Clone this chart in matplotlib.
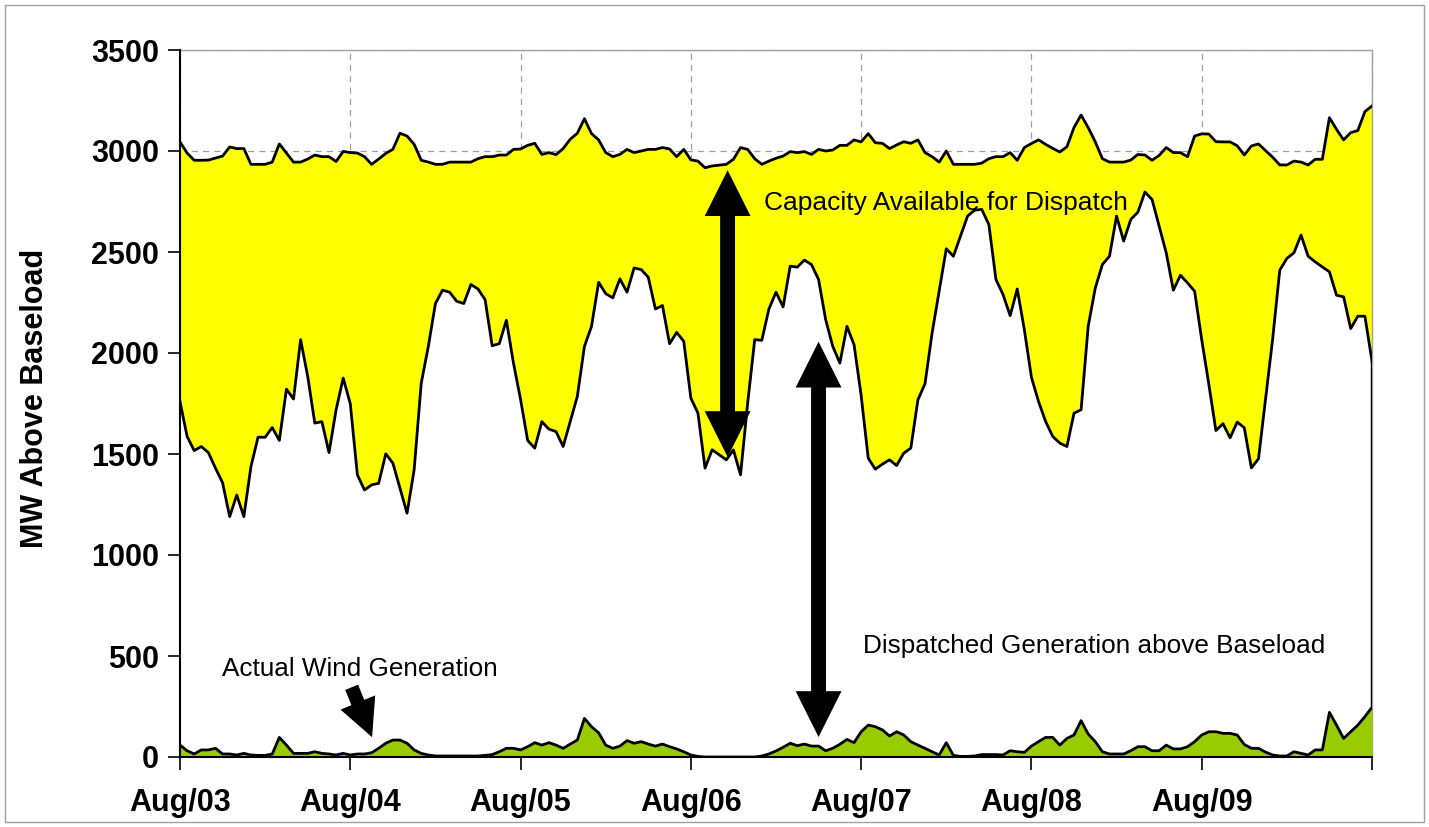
"""
Hourly dispatch capacity vs. dispatched generation and wind, Aug/03 - Aug/09
"""

import matplotlib.pyplot as plt
import numpy as np
from matplotlib.patches import Rectangle

# hourly values (MW above baseload), Aug/03 00h .. Aug/10 00h
top_capacity = [
    3045, 2990, 2954, 2954, 2955, 2965, 2975, 3020, 3012, 3012, 2934, 2934,
    2934, 2945, 3035, 2990, 2945, 2945, 2960, 2980, 2972, 2972, 2948, 2998,
    2992, 2990, 2972, 2934, 2960, 2988, 3008, 3088, 3074, 3033, 2954, 2945,
    2934, 2934, 2945, 2945, 2945, 2945, 2962, 2972, 2972, 2980, 2980, 3008,
    3010, 3028, 3038, 2983, 2992, 2982, 3012, 3058, 3088, 3160, 3086, 3055,
    2992, 2972, 2983, 3008, 2992, 3000, 3008, 3008, 3017, 3010, 2972, 3008,
    2956, 2950, 2917, 2926, 2930, 2934, 2959, 3017, 3008, 2962, 2934, 2950,
    2964, 2975, 2997, 2992, 2997, 2983, 3008, 3000, 3005, 3028, 3028, 3055,
    3045, 3086, 3041, 3038, 3012, 3030, 3046, 3038, 3055, 2992, 2972, 2945,
    3000, 2934, 2934, 2934, 2934, 2940, 2962, 2972, 2972, 2992, 2954, 3017,
    3037, 3055, 3033, 3013, 2995, 3021, 3116, 3178, 3116, 3045, 2962, 2945,
    2945, 2945, 2955, 2983, 2980, 2954, 2978, 3017, 2992, 2992, 2972, 3074,
    3085, 3084, 3046, 3045, 3045, 3026, 2980, 3025, 3035, 3002, 2969, 2931,
    2931, 2950, 2945, 2931, 2959, 2959, 3165, 3107, 3055, 3091, 3101, 3195,
    3223,
]
dispatched = [
    1760, 1587, 1517, 1537, 1507, 1430, 1358, 1190, 1297, 1190, 1438, 1583,
    1583, 1631, 1567, 1821, 1772, 2066, 1884, 1653, 1660, 1507, 1719, 1876,
    1749, 1397, 1322, 1347, 1355, 1501, 1455, 1330, 1207, 1422, 1851, 2033,
    2245, 2311, 2301, 2256, 2245, 2339, 2317, 2264, 2036, 2046, 2162, 1950,
    1770, 1567, 1529, 1660, 1623, 1611, 1537, 1660, 1785, 2033, 2132, 2350,
    2294, 2273, 2367, 2301, 2421, 2413, 2375, 2218, 2235, 2046, 2102, 2058,
    1777, 1702, 1430, 1521, 1496, 1471, 1520, 1397, 1750, 2066, 2063, 2218,
    2301, 2228, 2430, 2425, 2460, 2438, 2364, 2165, 2033, 1950, 2132, 2041,
    1790, 1479, 1425, 1450, 1471, 1443, 1504, 1529, 1768, 1848, 2099, 2306,
    2516, 2479, 2578, 2678, 2707, 2711, 2636, 2364, 2289, 2185, 2317, 2116,
    1880, 1760, 1661, 1587, 1554, 1537, 1702, 1719, 2132, 2322, 2438, 2479,
    2678, 2554, 2661, 2697, 2797, 2760, 2628, 2496, 2311, 2385, 2347, 2306,
    2066, 1846, 1616, 1650, 1580, 1658, 1630, 1431, 1476, 1773, 2070, 2410,
    2468, 2496, 2584, 2479, 2451, 2426, 2402, 2286, 2278, 2121, 2182, 2182,
    1960,
]
wind = [
    59, 31, 15, 35, 35, 43, 15, 15, 10, 18, 10, 8,
    8, 15, 97, 59, 18, 18, 18, 26, 18, 15, 10, 18,
    10, 15, 15, 21, 43, 68, 84, 84, 68, 35, 18, 10,
    5, 5, 5, 5, 5, 5, 5, 8, 12, 26, 43, 43,
    35, 51, 71, 59, 71, 59, 43, 64, 84, 191, 150, 120,
    59, 43, 54, 81, 68, 76, 64, 54, 64, 51, 40, 26,
    10, 3, 0, 0, 0, 0, 0, 0, 0, 0, 5, 15,
    30, 48, 68, 56, 64, 54, 54, 31, 43, 63, 87, 71,
    125, 158, 150, 134, 104, 125, 109, 76, 59, 43, 26, 10,
    71, 8, 3, 3, 5, 12, 12, 12, 10, 31, 26, 23,
    54, 76, 97, 97, 59, 92, 109, 180, 114, 76, 26, 15,
    15, 15, 31, 51, 51, 31, 31, 59, 40, 40, 51, 76,
    109, 125, 125, 117, 117, 109, 62, 43, 43, 24, 10, 5,
    5, 26, 18, 10, 35, 35, 221, 158, 92, 125, 158, 200,
    246,
]
day_labels = ["Aug/03", "Aug/04", "Aug/05", "Aug/06", "Aug/07", "Aug/08", "Aug/09"]

YELLOW = "#FFFF00"
GREEN = "#99CC00"
GRID = "#A0A0A0"

plt.rcParams["font.family"] = ["Liberation Sans", "DejaVu Sans"]

hours = np.arange(len(top_capacity)) / 24.0

fig = plt.figure(figsize=(14.29, 8.27), dpi=100)
ax = fig.add_axes([180 / 1429, 1 - 757 / 827, (1372 - 180) / 1429, (757 - 50) / 827])

# yellow capacity, white dispatched, green wind
ax.fill_between(hours, 0, top_capacity, color=YELLOW, lw=0, zorder=1)
ax.fill_between(hours, 0, dispatched, color="white", lw=0, zorder=2)
ax.fill_between(hours, 0, wind, color=GREEN, lw=0, zorder=3)
for series in (top_capacity, dispatched, wind):
    ax.plot(hours, series, color="black", lw=2, zorder=4)
ax.plot([hours[-1]] * 2, [wind[-1], dispatched[-1]], color="black", lw=2.5, zorder=4)

ax.set_xlim(0, 7)
ax.set_ylim(0, 3500)
ax.set_xticks(np.arange(8))
ax.set_xticklabels(day_labels + [""])
ax.set_yticks(np.arange(0, 3501, 500))
ax.tick_params(axis="both", direction="out", length=9, width=1.2, color="black")
ax.tick_params(axis="x", pad=13, labelsize=22)
ax.tick_params(axis="y", pad=6, labelsize=22)
for lab in ax.get_xticklabels() + ax.get_yticklabels():
    lab.set_fontweight("bold")

ax.set_axisbelow(True)
ax.grid(True, color=GRID, lw=0.9, linestyle=(0, (5, 4)), zorder=0)

for side in ("top", "right"):
    ax.spines[side].set_color(GRID)
    ax.spines[side].set_linewidth(1)
for side in ("left", "bottom"):
    ax.spines[side].set_color("black")
    ax.spines[side].set_linewidth(1.5)
    ax.spines[side].set_zorder(5)


def big_arrow(x0, y0, x1, y1, hw, hl, tw):
    ax.annotate(
        "",
        xy=(x1, y1),
        xytext=(x0, y0),
        arrowprops=dict(
            arrowstyle=f"simple,head_width={hw},head_length={hl},tail_width={tw}",
            color="black",
            lw=0,
            shrinkA=0,
            shrinkB=0,
            mutation_scale=1,
        ),
        zorder=6,
    )


def double_arrow(x, y0, y1):
    head = 33
    head_mw = head * 100 / 72 * 3500 / 707  # head length in data units
    big_arrow(x, y0 + head_mw, x, y1, head, head, 10.5)
    big_arrow(x, y1 - head_mw, x, y0, head, head, 10.5)


# double arrow across the capacity band and across dispatched generation
double_arrow(3.216, 1485, 2905)
double_arrow(3.75, 99, 2056)
# wind pointer
big_arrow(1.008, 345, 1.128, 98, 27, 27, 10)

ax.text(3.43, 2708, "Capacity Available for Dispatch", fontsize=19,
        ha="left", va="baseline", zorder=7)
ax.text(4.01, 515, "Dispatched Generation above Baseload", fontsize=18.8,
        ha="left", va="baseline", zorder=7)
ax.text(0.247, 401, "Actual Wind Generation", fontsize=18.8,
        ha="left", va="baseline", zorder=7)

fig.text(35 / 1429, 1 - 398 / 827, "MW Above Baseload", rotation=90, fontsize=22,
         fontweight="bold", ha="center", va="center")

# thin outer frame of the chart
fig.patches.append(Rectangle((5 / 1429, 5 / 827), 1419 / 1429, 817 / 827,
                             transform=fig.transFigure, fill=False,
                             edgecolor=GRID, lw=1))

fig.savefig("out.png", dpi=100, facecolor="white")
plt.close(fig)
